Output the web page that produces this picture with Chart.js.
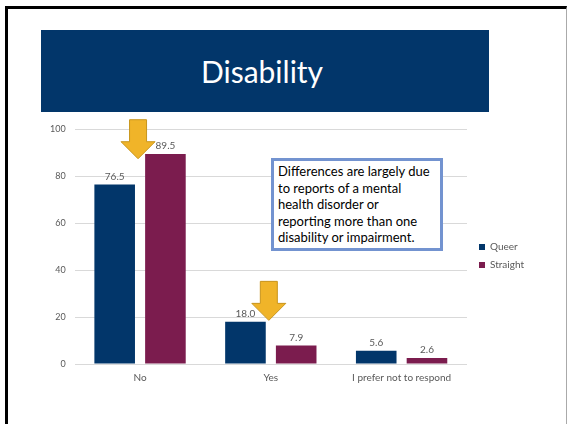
<!DOCTYPE html>
<html>
<head>
<meta charset="utf-8">
<script src="https://cdn.jsdelivr.net/npm/chart.js@4/dist/chart.umd.min.js"></script>
<style>
  body { margin: 0; width: 567px; height: 424px; background: #fff; overflow: hidden; position: relative; font-family: Lato, "Open Sans", sans-serif; }
  #marco { position: absolute; left: 5px; top: 6px; width: 558px; height: 430px; border-left: 3px solid #000; border-top: 3px solid #000; border-right: 1px solid #aaa; }
  #banner { position: absolute; left: 41px; top: 30px; width: 448px; height: 82px; background: #02366a; color: #fff; font-size: 30px; text-align: center; line-height: 82px; padding-right: 6px; box-sizing: border-box; }
  #grafica { position: absolute; left: 15px; top: 115px; width: 540px; height: 285px; }
  #nota { position: absolute; left: 271px; top: 158px; width: 172px; height: 93px; border: 3px solid #7393d0; background: #fff; color: #000; font-size: 13px; line-height: 16.6px; padding: 2px 0 0 4px; box-sizing: border-box; white-space: nowrap; }
</style>
</head>
<body>
<div id="marco"></div>
<div id="banner">Disability</div>
<div id="grafica"><canvas id="myChart"></canvas></div>
<div id="nota">Differences are largely due<br>to reports of a mental<br>health disorder or<br>reporting more than one<br>disability or impairment.</div>
<script>
const categorias = ['No', 'Yes', 'I prefer not to respond'];
const queer = [76.5, 18.0, 5.6];
const straight = [89.5, 7.9, 2.6];
const ticksY = [0, 20, 40, 60, 80, 100];

// flechas: categoria y valor donde queda la punta
const flechas = [
    { cat: 0, punta: 87.5 },
    { cat: 1, punta: 18.6 }
];

const etiquetas = {
    id: 'etiquetas',
    afterDatasetsDraw(chart) {
        const ctx = chart.ctx;
        ctx.save();
        ctx.font = '10px Lato, sans-serif';
        ctx.fillStyle = '#595959';
        ctx.textAlign = 'center';
        ctx.textBaseline = 'bottom';
        chart.data.datasets.forEach((ds, i) => {
            chart.getDatasetMeta(i).data.forEach((bar, j) => {
                ctx.fillText(ds.data[j].toFixed(1), bar.x, bar.y - 3);
            });
        });
        ctx.restore();
    }
};

const dibujarFlechas = {
    id: 'flechas',
    afterDraw(chart) {
        const ctx = chart.ctx;
        const x = chart.scales.x, y = chart.scales.y;
        ctx.save();
        flechas.forEach(f => {
            const cx = x.getPixelForValue(f.cat) - 2;
            const ty = y.getPixelForValue(f.punta);
            ctx.beginPath();
            ctx.moveTo(cx, ty);
            ctx.lineTo(cx + 17, ty - 17);
            ctx.lineTo(cx + 8.5, ty - 17);
            ctx.lineTo(cx + 8.5, ty - 39);
            ctx.lineTo(cx - 8.5, ty - 39);
            ctx.lineTo(cx - 8.5, ty - 17);
            ctx.lineTo(cx - 17, ty - 17);
            ctx.closePath();
            ctx.fillStyle = '#f0b429';
            ctx.fill();
            ctx.strokeStyle = '#c8951c';
            ctx.lineWidth = 1;
            ctx.stroke();
        });
        ctx.restore();
    }
};

// mover la leyenda un poco, como en la diapositiva
const moverLeyenda = {
    id: 'moverLeyenda',
    afterLayout(chart) {
        const l = chart.legend;
        l.left += 4; l.right += 4;
        l.top -= 3; l.bottom -= 3;
    }
};

new Chart(document.getElementById('myChart'), {
    type: 'bar',
    data: {
        labels: categorias,
        datasets: [
            { label: 'Queer', data: queer, backgroundColor: '#02366a' },
            { label: 'Straight', data: straight, backgroundColor: '#7b1c4e' }
        ]
    },
    options: {
        responsive: true,
        maintainAspectRatio: false,
        animation: false,
        categoryPercentage: 0.776,
        barPercentage: 0.8,
        layout: { padding: { top: 11, right: 25, bottom: 8, left: 26 } },
        plugins: {
            legend: {
                position: 'right',
                labels: { boxWidth: 6, boxHeight: 6, color: '#595959', font: { size: 10, family: 'Lato' }, padding: 8 }
            },
            tooltip: { enabled: false }
        },
        scales: {
            x: {
                grid: { display: false, drawTicks: false },
                border: { display: false },
                ticks: { color: '#595959', font: { size: 10, family: 'Lato' }, padding: 8 }
            },
            y: {
                min: 0,
                max: 100,
                afterBuildTicks: s => { s.ticks = ticksY.map(v => ({ value: v })); },
                grid: { color: '#d9d9d9', drawTicks: false },
                border: { display: false },
                ticks: { color: '#595959', font: { size: 9, family: 'Lato' }, padding: 9 }
            }
        }
    },
    plugins: [etiquetas, dibujarFlechas, moverLeyenda]
});
</script>
</body>
</html>
